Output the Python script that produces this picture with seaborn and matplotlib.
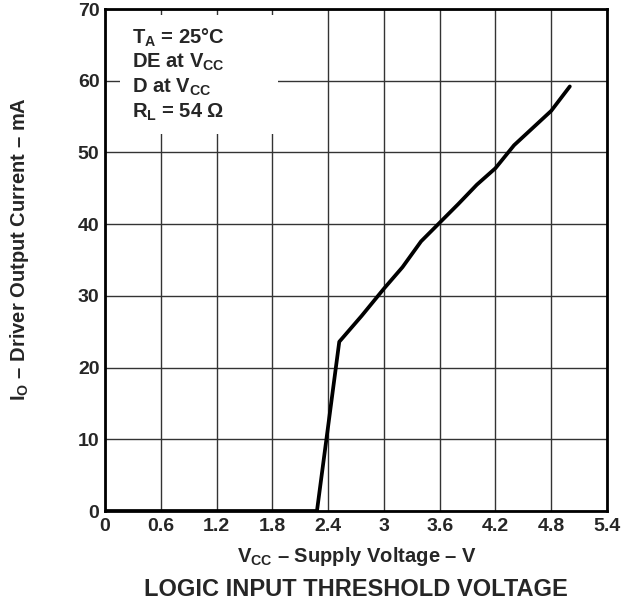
import matplotlib
matplotlib.use("Agg")
import matplotlib.pyplot as plt
import seaborn as sns
import pandas as pd
from matplotlib.patches import Rectangle

vcc = [0.0, 2.28, 2.52, 2.76, 3.0, 3.2, 3.4, 3.6, 3.8, 4.0, 4.2, 4.4, 4.6, 4.8, 5.0]
io = [0.0, 0.0, 23.6, 27.2, 31.0, 34.0, 37.6, 40.2, 42.8, 45.5, 47.8, 51.0, 53.4, 55.8, 59.2]
x_ticks = [0, 0.6, 1.2, 1.8, 2.4, 3, 3.6, 4.2, 4.8, 5.4]
x_tick_labels = ["0", "0.6", "1.2", "1.8", "2.4", "3", "3.6", "4.2", "4.8", "5.4"]
y_ticks = [0, 10, 20, 30, 40, 50, 60, 70]

sns.set_style("white")
plt.rcParams['font.family'] = ['Liberation Sans', 'DejaVu Sans']
plt.rcParams['font.weight'] = 'bold'
plt.rcParams['mathtext.fontset'] = 'custom'
plt.rcParams['mathtext.rm'] = 'Liberation Sans:bold'
plt.rcParams['mathtext.bf'] = 'Liberation Sans:bold'
plt.rcParams['mathtext.it'] = 'Liberation Sans:bold'

df = pd.DataFrame({"vcc": vcc, "io": io})

fig = plt.figure(figsize=(6.41, 6.05), dpi=100)
# axes from x=105..607 px, y=9..511 px
ax = fig.add_axes([105 / 641, 1 - 511 / 605, 502 / 641, 502 / 605])

ax.set_xlim(0, 5.4)
ax.set_ylim(0, 70)
ax.set_xticks(x_ticks)
ax.set_xticklabels(x_tick_labels)
ax.set_yticks(y_ticks)
ax.grid(True, color='#333333', linewidth=1.0)
ax.set_axisbelow(True)

sns.lineplot(data=df, x="vcc", y="io", ax=ax, color='black', linewidth=2.7, zorder=5)

for s in ax.spines.values():
    s.set_linewidth(2.0)
    s.set_color('black')

ax.tick_params(axis='y', length=0, labelsize=14, pad=4)
ax.tick_params(axis='x', length=0, labelsize=14, pad=5)
for lbl in ax.get_xticklabels() + ax.get_yticklabels():
    lbl.set_fontweight('bold')

ax.set_xlabel("")
ax.set_ylabel("")
fig.text(357 / 641, 1 - 557 / 605, r"$\mathrm{V_{CC}}$ – Supply Voltage – V", fontsize=14.5,
         fontweight='bold', ha='center', va='center')
fig.text(20 / 641, 1 - 249 / 605, r"$\mathrm{I_O}$ – Driver Output Current – mA", fontsize=14.5,
         fontweight='bold', ha='center', va='center', rotation=90)

# white box for annotation
ax.add_patch(Rectangle((0.16, 52.6), 1.70, 16.5, facecolor='white', edgecolor='none', zorder=3))
lines = [r"$\mathrm{T_A}$ = 25°C", r"DE at $\mathrm{V_{CC}}$", r"D at $\mathrm{V_{CC}}$", r"$\mathrm{R_L}$ = 54 Ω"]
for i, t in enumerate(lines):
    ax.text(0.29, 66.0 - i * 3.45, t, fontsize=14.5, fontweight='bold', va='center', ha='left', zorder=4)

fig.text(356 / 641, 1 - 590 / 605, "LOGIC INPUT THRESHOLD VOLTAGE", fontsize=17, fontweight='bold',
         ha='center', va='center')

fig.savefig("out.png", dpi=100)
